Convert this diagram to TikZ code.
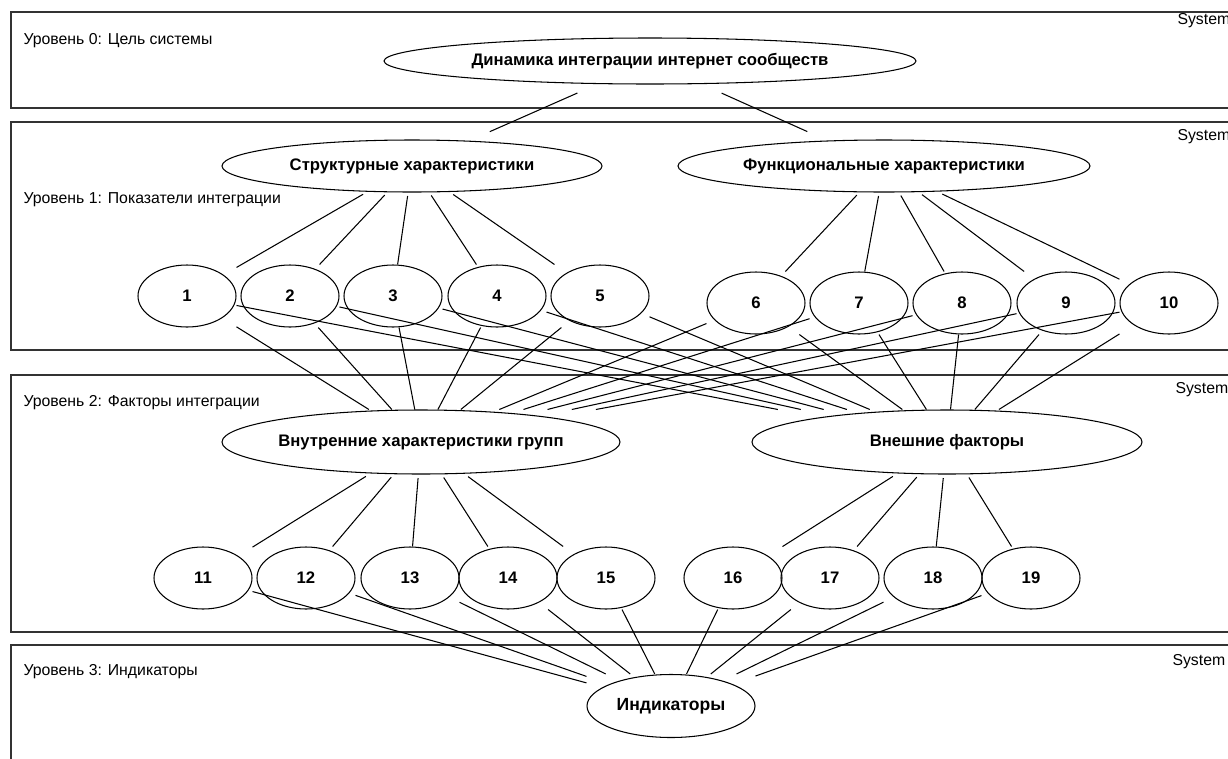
\documentclass[tikz,border=0pt]{standalone}
\usepackage{fontspec}
\setmainfont{Liberation Sans}

\begin{document}
\begin{tikzpicture}[x=0.02cm,y=-0.02cm,line width=0.6pt]
    \tikzstyle{layer box}=[draw=black!80,line width=0.9pt]
    \tikzstyle{lvl label}=[anchor=west,inner sep=0pt,font=\fontsize{9}{10}\selectfont]
    \tikzstyle{oval}=[rectangle,inner sep=0pt,font=\fontsize{9.5}{11}\selectfont\bfseries]
    \tikzstyle{item}=[oval,minimum width=1.96cm,minimum height=1.24cm]

    \path[use as bounding box] (0,0) rectangle (1228,758);
    \clip (0,0) rectangle (1228,758);

    % Layers
    \draw[layer box] (11,12) rectangle (1240,108);
    \draw[layer box] (11,122) rectangle (1240,350);
    \draw[layer box] (11,375) rectangle (1240,632);
    \draw[layer box] (11,645) rectangle (1240,775);

    \node[lvl label] (L-0) at (23,41) {Уровень 0: Цель системы};
    \node[lvl label] (L-1) at (23,200) {Уровень 1: Показатели интеграции};
    \node[lvl label] (L-2) at (23,403) {Уровень 2: Факторы интеграции};
    \node[lvl label] (L-3) at (23,672) {Уровень 3: Индикаторы};

    \node[lvl label] (Y-0) at (1177,21) {System};
    \node[lvl label] (Y-1) at (1177,137) {System};
    \node[lvl label] (Y-2) at (1175,390) {System};
    \node[lvl label] (Y-3) at (1172,662) {System};

    % Goal, indicators and factors
    \node[oval,minimum width=10.64cm,minimum height=0.92cm] (G) at (650,61) {Динамика интеграции интернет сообществ};
    \node[oval,minimum width=7.6cm,minimum height=1.04cm] (S) at (412,166) {Структурные характеристики};
    \node[oval,minimum width=8.24cm,minimum height=1.04cm] (F) at (884,166) {Функциональные характеристики};
    \node[oval,minimum width=7.96cm,minimum height=1.28cm] (Int) at (421,442) {Внутренние характеристики групп};
    \node[oval,minimum width=7.8cm,minimum height=1.28cm] (Ext) at (947,442) {Внешние факторы};
    \node[oval,minimum width=3.36cm,minimum height=1.26cm,font=\fontsize{10}{12}\selectfont\bfseries] (Ind) at (671,706) {Индикаторы};

    \draw (G) ellipse (266 and 23);
    \draw (S) ellipse (190 and 26);
    \draw (F) ellipse (206 and 26);
    \draw (Int) ellipse (199 and 32);
    \draw (Ext) ellipse (195 and 32);
    \draw (Ind) ellipse (84 and 31.5);

    \foreach \n/\x/\y in {1/187/296, 2/290/296, 3/393/296, 4/497/296, 5/600/296,
                          6/756/303, 7/859/303, 8/962/303, 9/1066/303, 10/1169/303,
                          11/203/578, 12/306/578, 13/410/578, 14/508/578, 15/606/578,
                          16/733/578, 17/830/578, 18/933/578, 19/1031/578} {
        \node[item] (I-\n) at (\x,\y) {\n};
        \draw (I-\n) ellipse (49 and 31);
    }

    % Connectors
    \draw[shorten <=12pt,shorten >=11pt] (G) -- (S);
    \draw[shorten <=12pt,shorten >=11pt] (G) -- (F);

    \foreach \n in {1,...,5}
        \draw[shorten <=2pt] (S) -- (I-\n);
    \foreach \n in {6,...,10}
        \draw[shorten <=2pt] (F) -- (I-\n);

    \foreach \n in {1,...,10} {
        \draw (I-\n) -- (Int);
        \draw (I-\n) -- (Ext);
    }

    \foreach \n in {11,...,15}
        \draw[shorten <=2pt] (Int) -- (I-\n);
    \foreach \n in {16,...,19}
        \draw[shorten <=2pt] (Ext) -- (I-\n);

    \foreach \n in {11,...,19}
        \draw (I-\n) -- (Ind);

\end{tikzpicture}
\end{document}
